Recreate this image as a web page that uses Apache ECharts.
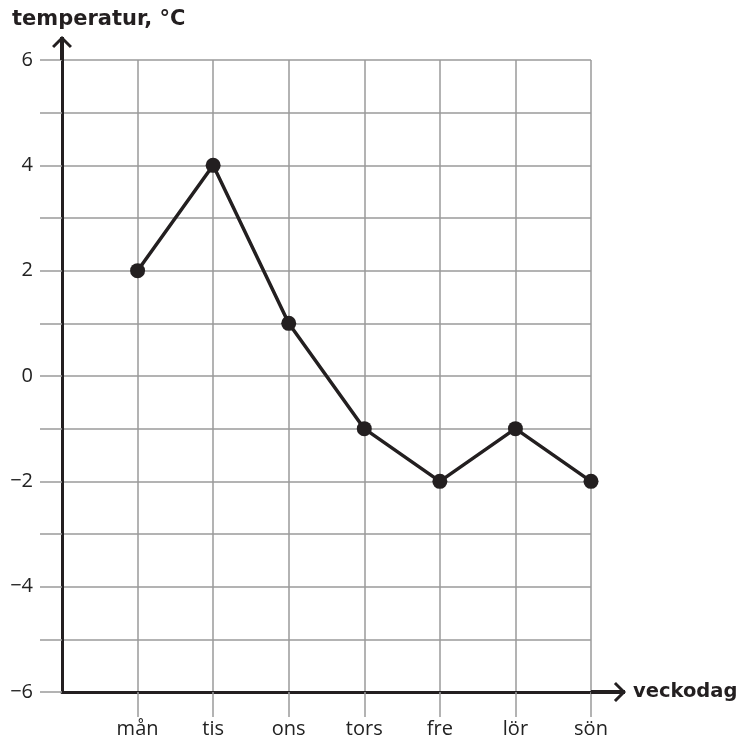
<!DOCTYPE html>
<html>
<head>
<meta charset="utf-8">
<script src="https://cdn.jsdelivr.net/npm/echarts@6/dist/echarts.min.js"></script>
<style>html,body{margin:0;padding:0;background:#fff}#c{width:745px;height:743px}</style>
</head>
<body>
<div id="c"></div>
<script>
const days = ['', 'mån', 'tis', 'ons', 'tors', 'fre', 'lör', 'sön'];
const temps = [null, 2, 4, 1, -1, -2, -1, -2];
const yTicks = { min: -6, max: 6, interval: 1 };
const yLabels = { '6': '6', '4': '4', '2': '2', '0': '0', '-2': '−2', '-4': '−4', '-6': '−6' };

const upArrow = (len) => 'path://M8 1 L12 1 L12 ' + len + ' L8 ' + len + ' Z ' +
  'M10 0 L12.1 2.1 L2.1 12.1 L0 10 Z M10 0 L20 10 L17.9 12.1 L7.9 2.1 Z';

const ink = '#231f20';
const gridCol = '#9a9a9a';
const font = 'Open Sans';
const boldFont = 'DejaVu Sans';

const chart = echarts.init(document.getElementById('c'));
chart.setOption({
  animation: false,
  title: {
    text: 'temperatur, °C', left: 7, top: 4,
    textStyle: { fontFamily: boldFont, fontWeight: 'bold', fontSize: 21, color: ink }
  },
  grid: { left: 62, right: 154, top: 60, bottom: 51, containLabel: false },
  xAxis: {
    type: 'category', data: days, boundaryGap: false,
    name: 'veckodag', nameLocation: 'end', nameGap: 42,
    nameTextStyle: { fontFamily: boldFont, fontWeight: 'bold', fontSize: 19.5, color: ink, align: 'left', verticalAlign: 'middle' },
    axisLine: { onZero: false, lineStyle: { color: ink, width: 3 }, symbol: ['none', upArrow(35)], symbolSize: [20, 35], symbolOffset: [0, 17.5] },
    axisTick: { show: true, length: 25, interval: (i) => i > 0, lineStyle: { color: gridCol, width: 1.5 } },
    axisLabel: { margin: 27, interval: 0, fontFamily: font, fontSize: 20, color: '#222' },
    splitLine: { show: true, interval: (i) => i > 0, lineStyle: { color: gridCol, width: 1.5 } }
  },
  yAxis: {
    type: 'value', min: yTicks.min, max: yTicks.max, interval: yTicks.interval,
    axisLine: { show: true, onZero: false, lineStyle: { color: ink, width: 3 }, symbol: ['none', upArrow(24)], symbolSize: [20, 24], symbolOffset: [0, 12] },
    axisTick: { show: true, length: 22, lineStyle: { color: gridCol, width: 1.5 } },
    axisLabel: {
      margin: 29, fontFamily: font, fontSize: 20, color: '#222',
      formatter: (v) => (v % 2 === 0 ? (yLabels[String(v)] || '') : '')
    },
    splitLine: { show: true, lineStyle: { color: gridCol, width: 1.5 } }
  },
  series: [{
    type: 'line', data: temps, connectNulls: false,
    symbol: 'circle', symbolSize: 15,
    lineStyle: { color: ink, width: 3.5 },
    itemStyle: { color: ink },
    z: 5
  }]
});
</script>
</body>
</html>
